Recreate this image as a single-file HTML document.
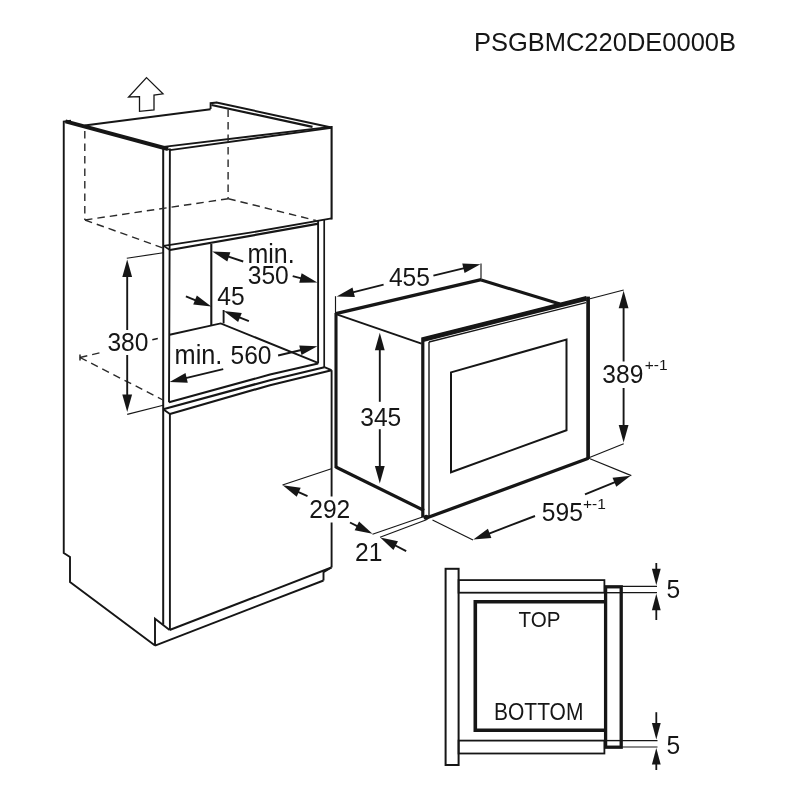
<!DOCTYPE html>
<html><head><meta charset="utf-8"><title>Installation diagram</title>
<style>
html,body{margin:0;padding:0;background:#fff;}
body{width:800px;height:800px;overflow:hidden;}
svg{display:block;will-change:transform;}
text{font-family:"Liberation Sans",sans-serif;fill:#161616;}
</style></head><body>
<svg width="800" height="800" viewBox="0 0 800 800">
<rect width="800" height="800" fill="#ffffff"/>
<text transform="translate(473.9,51.2) scale(1,1.035)" font-size="25.5" text-anchor="start" >PSGBMC220DE0000B</text>
<polygon points="146.5,77.6 163,93.8 154,95 154,110 139.5,111.3 139.5,96.6 128.6,97" fill="none" stroke="#161616" stroke-width="1.3" stroke-linejoin="miter"/>
<polyline points="71,120.8 63.75,121.5 63.75,553 70,557 70,582 155,645.6" fill="none" stroke="#161616" stroke-width="1.9" stroke-linejoin="miter"/>
<line x1="65.5" y1="121.3" x2="168.0" y2="149.0" stroke="#161616" stroke-width="3.9" stroke-linecap="butt"/>
<line x1="84.5" y1="125.5" x2="210.6" y2="109.3" stroke="#161616" stroke-width="2.1" stroke-linecap="butt"/>
<polyline points="210.6,108.9 210.6,103.2 217,102.5" fill="none" stroke="#161616" stroke-width="1.9" stroke-linejoin="miter"/>
<line x1="216.5" y1="102.5" x2="331.4" y2="127.5" stroke="#161616" stroke-width="1.9" stroke-linecap="butt"/>
<line x1="211.5" y1="105.0" x2="312.5" y2="126.9" stroke="#161616" stroke-width="2.2" stroke-linecap="butt"/>
<line x1="163.6" y1="146.9" x2="330.5" y2="126.9" stroke="#161616" stroke-width="1.9" stroke-linecap="butt"/>
<line x1="169.9" y1="150.1" x2="331.4" y2="127.9" stroke="#161616" stroke-width="1.9" stroke-linecap="butt"/>
<line x1="163.6" y1="146.9" x2="169.9" y2="150.1" stroke="#161616" stroke-width="1.6" stroke-linecap="butt"/>
<line x1="331.6" y1="126" x2="331.6" y2="219.5" stroke="#161616" stroke-width="2.1" stroke-linecap="butt"/>
<polyline points="163.6,245.9 250,232.7 331.6,218.4" fill="none" stroke="#161616" stroke-width="1.8" stroke-linejoin="round"/>
<line x1="169.9" y1="250.0" x2="318.6" y2="223.7" stroke="#161616" stroke-width="2.2" stroke-linecap="butt"/>
<line x1="163.6" y1="245.9" x2="169.9" y2="250.0" stroke="#161616" stroke-width="1.6" stroke-linecap="butt"/>
<line x1="163.2" y1="148" x2="163.2" y2="624.5" stroke="#161616" stroke-width="2.0" stroke-linecap="butt"/>
<polyline points="169.9,148.5 169.6,250 169.0,402.3" fill="none" stroke="#161616" stroke-width="1.9" stroke-linejoin="round"/>
<line x1="169.9" y1="414" x2="169.9" y2="630" stroke="#161616" stroke-width="1.9" stroke-linecap="butt"/>
<line x1="84.8" y1="131" x2="84.8" y2="220" stroke="#2a2a2a" stroke-width="1.4" stroke-linecap="butt" stroke-dasharray="7.5 5"/>
<line x1="228.1" y1="109.5" x2="228.1" y2="198.7" stroke="#2a2a2a" stroke-width="1.4" stroke-linecap="butt" stroke-dasharray="7.5 5"/>
<line x1="85" y1="220" x2="163" y2="248" stroke="#2a2a2a" stroke-width="1.4" stroke-linecap="butt" stroke-dasharray="7.5 5"/>
<line x1="85" y1="220" x2="228.3" y2="198.7" stroke="#2a2a2a" stroke-width="1.4" stroke-linecap="butt" stroke-dasharray="7.5 5"/>
<line x1="228.3" y1="198.7" x2="316" y2="220.5" stroke="#2a2a2a" stroke-width="1.4" stroke-linecap="butt" stroke-dasharray="7.5 5"/>
<line x1="80" y1="357.5" x2="103" y2="352" stroke="#2a2a2a" stroke-width="1.4" stroke-linecap="butt" stroke-dasharray="7.5 5"/>
<line x1="152.3" y1="339.7" x2="157.8" y2="338.5" stroke="#161616" stroke-width="1.4" stroke-linecap="butt"/>
<line x1="80" y1="357.5" x2="163" y2="400" stroke="#2a2a2a" stroke-width="1.4" stroke-linecap="butt" stroke-dasharray="7.5 5"/>
<line x1="80" y1="354.5" x2="80" y2="360.5" stroke="#161616" stroke-width="1.4" stroke-linecap="butt"/>
<line x1="211.3" y1="244" x2="211.3" y2="325.6" stroke="#161616" stroke-width="2.1" stroke-linecap="butt"/>
<line x1="223.6" y1="310" x2="223.6" y2="323.4" stroke="#161616" stroke-width="1.9" stroke-linecap="butt"/>
<polyline points="169.6,334.8 220.7,323.4 318,362.8" fill="none" stroke="#161616" stroke-width="1.9" stroke-linejoin="miter"/>
<line x1="318.1" y1="221" x2="318.1" y2="363.5" stroke="#161616" stroke-width="1.9" stroke-linecap="butt"/>
<line x1="324.2" y1="220" x2="324.2" y2="367.2" stroke="#161616" stroke-width="1.7" stroke-linecap="butt"/>
<polyline points="169.0,402.3 270,374.6 318.1,363.4" fill="none" stroke="#161616" stroke-width="2.1" stroke-linejoin="round"/>
<polyline points="163.2,409.3 270,380.2 324.4,367.2" fill="none" stroke="#161616" stroke-width="2.2" stroke-linejoin="round"/>
<polyline points="324.4,367.2 331.4,370.2" fill="none" stroke="#161616" stroke-width="1.9" stroke-linejoin="miter"/>
<polyline points="169.9,414 270,385.2 331.6,370.2" fill="none" stroke="#161616" stroke-width="2.2" stroke-linejoin="round"/>
<line x1="163.2" y1="409.3" x2="169.9" y2="414" stroke="#161616" stroke-width="1.9" stroke-linecap="butt"/>
<line x1="331.6" y1="370.2" x2="331.6" y2="496.5" stroke="#161616" stroke-width="1.9" stroke-linecap="butt"/>
<line x1="331.6" y1="522.5" x2="331.6" y2="567.5" stroke="#161616" stroke-width="1.9" stroke-linecap="butt"/>
<line x1="169.6" y1="630" x2="331.4" y2="567.5" stroke="#161616" stroke-width="1.9" stroke-linecap="butt"/>
<polyline points="155,645.6 155,618.8 169.6,630" fill="none" stroke="#161616" stroke-width="1.9" stroke-linejoin="miter"/>
<line x1="155" y1="645.6" x2="323.5" y2="580.5" stroke="#161616" stroke-width="1.9" stroke-linecap="butt"/>
<polyline points="331.4,567.5 323.5,572.3 323.5,580.5" fill="none" stroke="#161616" stroke-width="1.9" stroke-linejoin="miter"/>
<line x1="126.8" y1="258.2" x2="163.2" y2="252.8" stroke="#161616" stroke-width="1.15" stroke-linecap="butt"/>
<line x1="127.2" y1="414.4" x2="163.2" y2="405.2" stroke="#161616" stroke-width="1.15" stroke-linecap="butt"/>
<line x1="127.2" y1="330" x2="127.2" y2="275.0" stroke="#161616" stroke-width="1.9" stroke-linecap="butt"/>
<polygon points="127.2,259.5 132.1,277.0 122.3,277.0" fill="#161616"/>
<line x1="127.2" y1="355" x2="127.2" y2="396.5" stroke="#161616" stroke-width="1.9" stroke-linecap="butt"/>
<polygon points="127.2,412 122.3,394.5 132.1,394.5" fill="#161616"/>
<text transform="translate(107.4,351.4) scale(1,1.07)" font-size="24.6" text-anchor="start" >380</text>
<text transform="translate(247.4,262.6) scale(1,1.07)" font-size="25" text-anchor="start" >min.</text>
<text transform="translate(247.7,284.1) scale(1,1.07)" font-size="24.6" text-anchor="start" >350</text>
<line x1="243.2" y1="261.5" x2="226.94" y2="256.2" stroke="#161616" stroke-width="1.9" stroke-linecap="butt"/>
<polygon points="212.2,251.4 230.36,252.16 227.32,261.48" fill="#161616"/>
<line x1="292.7" y1="276.1" x2="302.38" y2="278.57" stroke="#161616" stroke-width="1.9" stroke-linecap="butt"/>
<polygon points="317.4,282.4 299.23,282.82 301.65,273.33" fill="#161616"/>
<text transform="translate(217.3,304.6) scale(1,1.07)" font-size="24.6" text-anchor="start" >45</text>
<line x1="185.9" y1="296.4" x2="196.9" y2="300.77" stroke="#161616" stroke-width="1.9" stroke-linecap="butt"/>
<polygon points="211.3,306.5 193.23,304.59 196.85,295.48" fill="#161616"/>
<line x1="248.9" y1="321.1" x2="238.09" y2="316.77" stroke="#161616" stroke-width="1.9" stroke-linecap="butt"/>
<polygon points="223.7,311 241.77,312.96 238.12,322.06" fill="#161616"/>
<text transform="translate(174.6,364.2) scale(1,1.07)" font-size="25.3" text-anchor="start" >min.</text>
<text transform="translate(230.5,364.3) scale(1,1.07)" font-size="24.6" text-anchor="start" >560</text>
<line x1="223.2" y1="369.2" x2="184.68" y2="378.33" stroke="#161616" stroke-width="1.9" stroke-linecap="butt"/>
<polygon points="169.6,381.9 185.5,373.1 187.76,382.63" fill="#161616"/>
<line x1="278.1" y1="355.5" x2="302.32" y2="349.77" stroke="#161616" stroke-width="1.9" stroke-linecap="butt"/>
<polygon points="317.4,346.2 301.5,355.0 299.24,345.46" fill="#161616"/>
<line x1="335.5" y1="296.2" x2="335.5" y2="313.7" stroke="#161616" stroke-width="1.15" stroke-linecap="butt"/>
<line x1="481.0" y1="263.6" x2="481.0" y2="280" stroke="#161616" stroke-width="1.15" stroke-linecap="butt"/>
<line x1="335.8" y1="313.6" x2="481.2" y2="279.7" stroke="#161616" stroke-width="3.3" stroke-linecap="butt"/>
<line x1="481.2" y1="280" x2="560" y2="304" stroke="#161616" stroke-width="3.1" stroke-linecap="butt"/>
<line x1="336" y1="314.2" x2="421.5" y2="343.6" stroke="#161616" stroke-width="1.9" stroke-linecap="butt"/>
<line x1="336.0" y1="313" x2="336.0" y2="468" stroke="#161616" stroke-width="3.1" stroke-linecap="butt"/>
<line x1="335.8" y1="467" x2="424" y2="510.5" stroke="#161616" stroke-width="3.1" stroke-linecap="butt"/>
<polyline points="422.8,517.5 422.8,338.8 586.5,297.5" fill="none" stroke="#161616" stroke-width="3.2" stroke-linejoin="miter"/>
<line x1="588.1" y1="459" x2="588.1" y2="296.6" stroke="#161616" stroke-width="3.7" stroke-linecap="butt"/>
<line x1="422.8" y1="340" x2="586.5" y2="298.8" stroke="#161616" stroke-width="4.0" stroke-linecap="butt"/>
<line x1="429" y1="517" x2="429" y2="342" stroke="#161616" stroke-width="1.4" stroke-linecap="butt"/>
<line x1="429" y1="342" x2="586" y2="302.6" stroke="#161616" stroke-width="1.3" stroke-linecap="butt"/>
<line x1="588.5" y1="458.3" x2="427" y2="517.8" stroke="#161616" stroke-width="3.3000000000000003" stroke-linecap="butt"/>
<circle cx="426.2" cy="517.3" r="2.6" fill="#161616"/>
<polygon points="451,372.4 566.5,339.5 566.5,430.2 451,472.3" fill="none" stroke="#161616" stroke-width="2.0" stroke-linejoin="miter"/>
<text transform="translate(388.9,286.0) scale(1,1.07)" font-size="24.6" text-anchor="start" >455</text>
<line x1="383.6" y1="284.7" x2="351.74" y2="292.65" stroke="#161616" stroke-width="1.9" stroke-linecap="butt"/>
<polygon points="336.7,296.4 352.49,287.41 354.87,296.92" fill="#161616"/>
<line x1="433.4" y1="275.6" x2="465.34" y2="267.85" stroke="#161616" stroke-width="1.9" stroke-linecap="butt"/>
<polygon points="480.4,264.2 464.55,273.09 462.24,263.56" fill="#161616"/>
<text transform="translate(360.2,425.7) scale(1,1.07)" font-size="24.6" text-anchor="start" >345</text>
<line x1="379.8" y1="401.8" x2="379.8" y2="348.3" stroke="#161616" stroke-width="1.9" stroke-linecap="butt"/>
<polygon points="379.8,332.8 384.7,350.3 374.9,350.3" fill="#161616"/>
<line x1="379.8" y1="429.2" x2="379.8" y2="468.0" stroke="#161616" stroke-width="1.9" stroke-linecap="butt"/>
<polygon points="379.8,483.5 374.9,466.0 384.7,466.0" fill="#161616"/>
<line x1="590" y1="298.7" x2="623.7" y2="290" stroke="#161616" stroke-width="1.15" stroke-linecap="butt"/>
<line x1="589.5" y1="457.5" x2="623.7" y2="443.8" stroke="#161616" stroke-width="1.15" stroke-linecap="butt"/>
<line x1="623.6" y1="361.5" x2="623.6" y2="306.3" stroke="#161616" stroke-width="1.9" stroke-linecap="butt"/>
<polygon points="623.6,290.8 628.5,308.3 618.7,308.3" fill="#161616"/>
<line x1="623.6" y1="388" x2="623.6" y2="427.0" stroke="#161616" stroke-width="1.9" stroke-linecap="butt"/>
<polygon points="623.6,442.5 618.7,425.0 628.5,425.0" fill="#161616"/>
<text transform="translate(602.3,382.7) scale(1,1.07)" font-size="24.6" text-anchor="start" >389</text>
<text transform="translate(644.8,370.2) scale(1,0.9)" font-size="15.5" text-anchor="start" >+-1</text>
<line x1="590" y1="458.7" x2="631.3" y2="475.6" stroke="#161616" stroke-width="1.15" stroke-linecap="butt"/>
<line x1="432.5" y1="520" x2="473" y2="540" stroke="#161616" stroke-width="1.15" stroke-linecap="butt"/>
<line x1="585" y1="494.4" x2="616.26" y2="481.58" stroke="#161616" stroke-width="1.9" stroke-linecap="butt"/>
<polygon points="630.6,475.7 616.27,486.87 612.55,477.81" fill="#161616"/>
<line x1="535" y1="516" x2="487.78" y2="534.06" stroke="#161616" stroke-width="1.9" stroke-linecap="butt"/>
<polygon points="473.3,539.6 487.89,528.77 491.4,537.92" fill="#161616"/>
<text transform="translate(541.8,521.2) scale(1,1.07)" font-size="24.6" text-anchor="start" >595</text>
<text transform="translate(583.0,509.0) scale(1,0.9)" font-size="15.5" text-anchor="start" >+-1</text>
<line x1="331.4" y1="468.7" x2="282.5" y2="485" stroke="#161616" stroke-width="1.15" stroke-linecap="butt"/>
<line x1="372.5" y1="534.2" x2="422.5" y2="517" stroke="#161616" stroke-width="1.15" stroke-linecap="butt"/>
<line x1="307.5" y1="496.2" x2="296.87" y2="491.48" stroke="#161616" stroke-width="1.9" stroke-linecap="butt"/>
<polygon points="282.7,485.2 300.68,487.82 296.71,496.77" fill="#161616"/>
<line x1="350" y1="522.5" x2="358.65" y2="526.84" stroke="#161616" stroke-width="1.9" stroke-linecap="butt"/>
<polygon points="372.5,533.8 354.66,530.32 359.06,521.57" fill="#161616"/>
<text transform="translate(309.2,518.3) scale(1,1.07)" font-size="24.6" text-anchor="start" >292</text>
<line x1="380" y1="537.2" x2="426.5" y2="519.8" stroke="#161616" stroke-width="1.15" stroke-linecap="butt"/>
<line x1="406.2" y1="551.2" x2="393.93" y2="544.78" stroke="#161616" stroke-width="1.9" stroke-linecap="butt"/>
<polygon points="380.2,537.6 397.98,541.37 393.44,550.05" fill="#161616"/>
<text transform="translate(355.0,560.6) scale(1,1.07)" font-size="24.6" text-anchor="start" >21</text>
<rect x="445.6" y="568.8" width="13" height="196.2" fill="none" stroke="#161616" stroke-width="2"/>
<rect x="458.6" y="580.1" width="145.8" height="12.6" fill="none" stroke="#161616" stroke-width="1.8"/>
<rect x="458.6" y="740.6" width="145.8" height="12.9" fill="none" stroke="#161616" stroke-width="1.8"/>
<polyline points="605,601.8 475.3,601.8 475.3,730.2 605,730.2" fill="none" stroke="#161616" stroke-width="3.6" stroke-linejoin="miter"/>
<rect x="605.6" y="586.8" width="15.6" height="160.4" fill="none" stroke="#161616" stroke-width="3.3"/>
<text transform="translate(518.6,626.5) scale(1,1.1)" font-size="20.6" text-anchor="start" >TOP</text>
<text transform="translate(494.0,720.2) scale(1,1.1)" font-size="21" text-anchor="start" >BOTTOM</text>
<line x1="604.4" y1="592.7" x2="622" y2="592.7" stroke="#161616" stroke-width="1.4" stroke-linecap="butt"/>
<line x1="604.4" y1="740.6" x2="622" y2="740.6" stroke="#161616" stroke-width="1.4" stroke-linecap="butt"/>
<line x1="622" y1="586.4" x2="657" y2="586.4" stroke="#161616" stroke-width="1.15" stroke-linecap="butt"/>
<line x1="622" y1="592.6" x2="657" y2="592.6" stroke="#161616" stroke-width="1.15" stroke-linecap="butt"/>
<line x1="656.3" y1="563" x2="656.3" y2="570.7" stroke="#161616" stroke-width="1.8" stroke-linecap="butt"/>
<polygon points="656.3,585.2 651.9,568.7 660.7,568.7" fill="#161616"/>
<line x1="656.3" y1="620" x2="656.3" y2="608.3" stroke="#161616" stroke-width="1.8" stroke-linecap="butt"/>
<polygon points="656.3,593.8 660.7,610.3 651.9,610.3" fill="#161616"/>
<text transform="translate(666.4,597.5) scale(1,1.07)" font-size="24.6" text-anchor="start" >5</text>
<line x1="622" y1="740.6" x2="657.5" y2="740.6" stroke="#161616" stroke-width="1.15" stroke-linecap="butt"/>
<line x1="622" y1="747.0" x2="657.5" y2="747.0" stroke="#161616" stroke-width="1.15" stroke-linecap="butt"/>
<line x1="656.3" y1="712.2" x2="656.3" y2="724.9" stroke="#161616" stroke-width="1.8" stroke-linecap="butt"/>
<polygon points="656.3,739.4 651.9,722.9 660.7,722.9" fill="#161616"/>
<line x1="656.3" y1="770" x2="656.3" y2="762.6" stroke="#161616" stroke-width="1.8" stroke-linecap="butt"/>
<polygon points="656.3,748.1 660.7,764.6 651.9,764.6" fill="#161616"/>
<text transform="translate(666.5,753.5) scale(1,1.07)" font-size="24.6" text-anchor="start" >5</text>
</svg>
</body></html>
